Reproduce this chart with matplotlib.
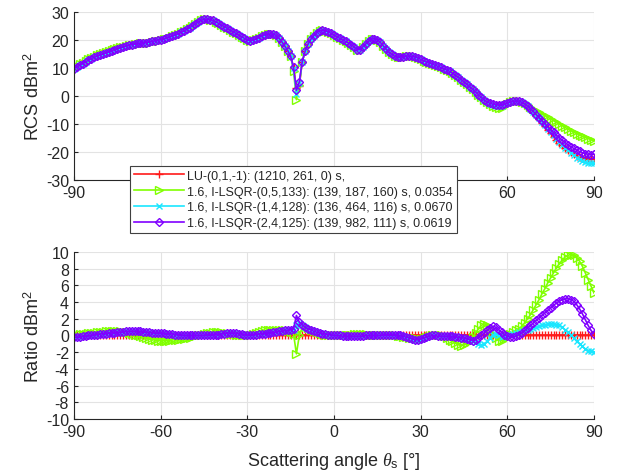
import matplotlib
matplotlib.use('Agg')
import matplotlib.pyplot as plt
import numpy as np

plt.rcParams['font.family'] = ['Liberation Sans', 'DejaVu Sans']
plt.rcParams['mathtext.fontset'] = 'custom'
plt.rcParams['mathtext.it'] = 'Liberation Serif:italic'
plt.rcParams['mathtext.rm'] = 'Liberation Sans'
plt.rcParams['axes.unicode_minus'] = False

# scattering angle, 1 degree steps
angle = np.arange(-90, 91)

labels = ['LU-(0,1,-1): (1210, 261, 0) s,',
          '1.6, I-LSQR-(0,5,133): (139, 187, 160) s, 0.0354',
          '1.6, I-LSQR-(1,4,128): (136, 464, 116) s, 0.0670',
          '1.6, I-LSQR-(2,4,125): (139, 982, 111) s, 0.0619']
colors = ['#ff1a1a', '#80ff00', '#1ae6ff', '#8000ff']
markers = ['+', '>', 'x', 'D']
msizes = [6, 5.5, 5, 4.5]

# RCS (dBm^2)
rcs_lu = [
    9.8, 10.4, 11.0, 11.6, 12.2, 12.8, 13.4, 13.8, 14.2, 14.6,
    15.0, 15.4, 15.8, 16.2, 16.6, 16.9, 17.2, 17.5, 17.8, 18.1,
    18.4, 18.6, 18.8, 18.9, 19.0, 19.1, 19.3, 19.5, 19.7, 19.9,
    20.1, 20.4, 20.7, 21.0, 21.4, 21.8, 22.2, 22.7, 23.2, 23.8,
    24.4, 25.1, 25.8, 26.5, 27.0, 27.4, 27.5, 27.3, 27.0, 26.5,
    26.0, 25.4, 24.8, 24.2, 23.6, 23.0, 22.4, 21.8, 21.2, 20.6,
    20.1, 19.8, 19.9, 20.3, 20.9, 21.5, 21.9, 22.1, 22.2, 22.1,
    21.7, 20.6, 19.3, 17.8, 16.2, 14.2, 10.4, 2.8, 3.5, 12.2,
    16.0, 18.5, 20.3, 21.6, 22.6, 23.3, 23.6, 23.4, 22.9, 22.4,
    21.8, 21.2, 20.6, 20.1, 19.5, 19.0, 18.4, 17.5, 16.5, 16.6,
    17.6, 18.6, 19.6, 20.3, 20.5, 20.1, 19.2, 18.0, 16.8, 15.7,
    14.9, 14.2, 13.9, 13.9, 14.1, 14.3, 14.3, 14.2, 14.0, 13.6,
    13.1, 12.6, 12.2, 11.8, 11.4, 11.0, 10.6, 10.2, 9.8, 9.3,
    8.8, 8.2, 7.5, 6.7, 5.9, 5.1, 4.2, 3.3, 2.4, 1.5,
    0.5, -0.5, -1.4, -2.1, -2.6, -2.9, -3.1, -3.2, -3.1, -2.9,
    -2.6, -2.2, -1.9, -1.7, -1.8, -2.2, -2.8, -3.6, -4.6, -5.7,
    -7.0, -8.2, -9.5, -10.8, -12.1, -13.3, -14.5, -15.6, -16.6, -17.6,
    -18.5, -19.3, -20.0, -20.7, -21.3, -21.8, -22.1, -22.3, -22.4, -22.4,
    -22.3]
rcs_lsqr0 = [
    9.9, 10.6, 11.3, 11.9, 12.5, 13.1, 13.7, 14.1, 14.5, 14.9,
    15.3, 15.6, 16.0, 16.4, 16.8, 17.1, 17.4, 17.6, 17.9, 18.1,
    18.4, 18.6, 18.7, 18.8, 18.9, 19.0, 19.1, 19.3, 19.5, 19.7,
    19.9, 20.2, 20.5, 20.9, 21.3, 21.7, 22.2, 22.7, 23.2, 23.8,
    24.4, 25.1, 25.8, 26.5, 27.0, 27.4, 27.5, 27.3, 27.0, 26.5,
    26.0, 25.4, 24.8, 24.2, 23.6, 23.0, 22.4, 21.8, 21.2, 20.6,
    20.1, 19.8, 19.9, 20.3, 20.9, 21.5, 21.9, 22.1, 22.2, 22.1,
    21.7, 20.6, 19.3, 17.8, 16.2, 14.2, 9.0, -1.3, 4.0, 12.2,
    16.0, 18.5, 20.3, 21.6, 22.6, 23.3, 23.6, 23.4, 22.9, 22.4,
    21.8, 21.2, 20.6, 20.1, 19.5, 19.0, 18.4, 17.5, 16.5, 16.6,
    17.6, 18.6, 19.6, 20.3, 20.5, 20.1, 19.2, 18.0, 16.8, 15.7,
    14.9, 14.2, 13.9, 13.9, 14.1, 14.3, 14.3, 14.2, 14.0, 13.6,
    13.1, 12.6, 12.2, 11.8, 11.4, 11.0, 10.6, 10.2, 9.8, 9.3,
    8.8, 8.2, 7.5, 6.7, 5.9, 5.1, 4.2, 3.3, 2.4, 1.5,
    0.5, -0.5, -1.4, -2.1, -2.9, -3.4, -3.9, -4.3, -4.1, -3.5,
    -2.8, -2.2, -1.9, -1.7, -1.8, -2.0, -2.5, -3.1, -3.8, -4.5,
    -5.2, -5.8, -6.4, -7.0, -7.6, -8.2, -8.8, -9.4, -10.0, -10.6,
    -11.2, -11.8, -12.4, -12.9, -13.4, -13.9, -14.4, -14.8, -15.2, -15.6,
    -16.0]
rcs_lsqr1 = [
    9.8, 10.4, 11.0, 11.6, 12.2, 12.8, 13.4, 13.8, 14.2, 14.6,
    15.0, 15.4, 15.8, 16.2, 16.6, 16.9, 17.2, 17.5, 17.8, 18.1,
    18.4, 18.6, 18.8, 18.9, 19.0, 19.1, 19.3, 19.5, 19.7, 19.9,
    20.1, 20.4, 20.7, 21.0, 21.4, 21.8, 22.2, 22.7, 23.2, 23.8,
    24.4, 25.1, 25.8, 26.5, 27.0, 27.4, 27.5, 27.3, 27.0, 26.5,
    26.0, 25.4, 24.8, 24.2, 23.6, 23.0, 22.4, 21.8, 21.2, 20.6,
    20.1, 19.8, 19.9, 20.3, 20.9, 21.5, 21.9, 22.1, 22.2, 22.1,
    21.7, 20.6, 19.3, 17.8, 16.2, 14.2, 10.0, 0.8, 4.5, 12.2,
    16.0, 18.5, 20.3, 21.6, 22.6, 23.3, 23.6, 23.4, 22.9, 22.4,
    21.8, 21.2, 20.6, 20.1, 19.5, 19.0, 18.4, 17.5, 16.5, 16.6,
    17.6, 18.6, 19.6, 20.3, 20.5, 20.1, 19.2, 18.0, 16.8, 15.7,
    14.9, 14.2, 13.9, 13.9, 14.1, 14.3, 14.3, 14.2, 14.0, 13.6,
    13.1, 12.6, 12.2, 11.8, 11.4, 11.0, 10.6, 10.2, 9.8, 9.3,
    8.8, 8.2, 7.5, 6.7, 5.9, 5.1, 4.2, 3.3, 2.4, 1.5,
    0.5, -0.5, -1.4, -2.1, -2.7, -3.3, -3.6, -3.7, -3.5, -3.0,
    -2.6, -2.2, -1.9, -1.7, -1.8, -2.2, -2.8, -3.6, -4.5, -5.6,
    -6.9, -8.0, -9.2, -10.4, -11.6, -12.8, -14.0, -15.2, -16.3, -17.4,
    -18.4, -19.4, -20.3, -21.2, -22.0, -22.6, -23.1, -23.5, -23.8, -23.9,
    -23.9]
rcs_lsqr2 = [
    9.8, 10.4, 11.0, 11.6, 12.2, 12.8, 13.4, 13.8, 14.2, 14.6,
    15.0, 15.4, 15.8, 16.2, 16.6, 16.9, 17.2, 17.5, 17.8, 18.1,
    18.4, 18.6, 18.8, 18.9, 19.0, 19.1, 19.3, 19.5, 19.7, 19.9,
    20.1, 20.4, 20.7, 21.0, 21.4, 21.8, 22.2, 22.7, 23.2, 23.8,
    24.4, 25.1, 25.8, 26.5, 27.0, 27.4, 27.5, 27.3, 27.0, 26.5,
    26.0, 25.4, 24.8, 24.2, 23.6, 23.0, 22.4, 21.8, 21.2, 20.6,
    20.1, 19.8, 19.9, 20.3, 20.9, 21.5, 21.9, 22.1, 22.2, 22.1,
    21.7, 20.6, 19.3, 17.8, 16.2, 14.2, 10.2, 2.0, 5.0, 12.2,
    16.0, 18.5, 20.3, 21.6, 22.6, 23.3, 23.6, 23.4, 22.9, 22.4,
    21.8, 21.2, 20.6, 20.1, 19.5, 19.0, 18.4, 17.5, 16.5, 16.6,
    17.6, 18.6, 19.6, 20.3, 20.5, 20.1, 19.2, 18.0, 16.8, 15.7,
    14.9, 14.2, 13.9, 13.9, 14.1, 14.3, 14.3, 14.2, 14.0, 13.6,
    13.1, 12.6, 12.2, 11.8, 11.4, 11.0, 10.6, 10.2, 9.8, 9.3,
    8.8, 8.2, 7.5, 6.7, 5.9, 5.1, 4.2, 3.3, 2.4, 1.5,
    0.5, -0.5, -1.4, -2.1, -2.6, -2.9, -3.1, -3.2, -3.1, -2.9,
    -2.6, -2.2, -1.9, -1.7, -1.8, -2.2, -2.8, -3.6, -4.5, -5.5,
    -6.6, -7.7, -8.8, -9.9, -11.0, -12.0, -13.0, -14.0, -14.9, -15.8,
    -16.6, -17.4, -18.1, -18.7, -19.3, -19.8, -20.2, -20.6, -20.8, -20.9,
    -20.8]

# ratio to LU (dBm^2)
ratio_lu = np.zeros(len(angle))
ratio_lsqr0 = [
    0.1, 0.1, 0.2, 0.2, 0.2, 0.3, 0.3, 0.3, 0.4, 0.4,
    0.4, 0.5, 0.5, 0.5, 0.5, 0.5, 0.5, 0.4, 0.4, 0.3,
    0.2, 0.1, 0.0, -0.1, -0.2, -0.3, -0.4, -0.5, -0.5, -0.6,
    -0.6, -0.6, -0.6, -0.6, -0.5, -0.5, -0.5, -0.4, -0.4, -0.3,
    -0.3, -0.2, -0.1, 0.0, 0.1, 0.2, 0.3, 0.3, 0.4, 0.4,
    0.4, 0.4, 0.3, 0.3, 0.2, 0.2, 0.1, 0.1, 0.0, 0.0,
    0.0, 0.1, 0.2, 0.3, 0.4, 0.5, 0.6, 0.6, 0.7, 0.7,
    0.7, 0.7, 0.6, 0.6, 0.5, 0.4, 0.2, -2.2, 0.0, 0.9,
    1.0, 0.9, 0.7, 0.5, 0.4, 0.3, 0.2, 0.1, 0.1, 0.0,
    0.0, 0.0, 0.0, 0.0, 0.1, 0.1, 0.1, 0.2, 0.2, 0.2,
    0.2, 0.2, 0.1, 0.1, 0.0, 0.0, 0.0, 0.0, 0.0, 0.0,
    0.0, 0.0, -0.1, -0.1, -0.2, -0.2, -0.3, -0.3, -0.3, -0.4,
    -0.4, -0.3, -0.2, -0.1, 0.0, 0.1, 0.1, 0.0, -0.1, -0.3,
    -0.5, -0.7, -0.9, -1.1, -1.2, -1.1, -0.9, -0.6, -0.2, 0.3,
    0.8, 1.2, 1.4, 1.3, 0.8, 0.2, -0.3, -0.6, -0.6, -0.4,
    -0.1, 0.2, 0.4, 0.6, 0.8, 1.1, 1.5, 2.0, 2.5, 3.1,
    3.7, 4.3, 5.0, 5.6, 6.3, 6.9, 7.5, 8.1, 8.6, 9.0,
    9.4, 9.6, 9.7, 9.6, 9.3, 8.9, 8.3, 7.5, 6.7, 5.9,
    5.1]
ratio_lsqr1 = [
    -0.2, -0.2, -0.2, -0.1, -0.1, 0.0, 0.0, 0.1, 0.1, 0.2,
    0.2, 0.2, 0.3, 0.3, 0.3, 0.4, 0.4, 0.4, 0.5, 0.5,
    0.5, 0.5, 0.5, 0.5, 0.4, 0.4, 0.4, 0.3, 0.3, 0.3,
    0.3, 0.3, 0.2, 0.2, 0.2, 0.1, 0.1, 0.1, 0.0, 0.0,
    0.0, 0.0, 0.0, 0.0, 0.0, 0.0, 0.1, 0.1, 0.1, 0.1,
    0.1, 0.2, 0.2, 0.3, 0.3, 0.3, 0.3, 0.2, 0.2, 0.1,
    0.1, 0.1, 0.1, 0.1, 0.2, 0.2, 0.2, 0.3, 0.3, 0.4,
    0.4, 0.5, 0.5, 0.6, 0.6, 0.7, 0.7, 1.2, 1.5, 1.2,
    1.0, 0.8, 0.7, 0.5, 0.4, 0.3, 0.2, 0.2, 0.1, 0.1,
    0.0, 0.0, 0.0, -0.1, -0.1, -0.1, -0.1, -0.1, -0.1, -0.1,
    -0.1, 0.0, 0.0, 0.0, 0.0, 0.0, 0.0, 0.1, 0.1, 0.1,
    0.1, 0.1, 0.0, 0.0, -0.1, -0.2, -0.3, -0.4, -0.5, -0.5,
    -0.4, -0.3, -0.2, -0.1, 0.0, 0.0, -0.1, -0.1, -0.1, -0.1,
    -0.1, -0.1, -0.2, -0.2, -0.3, -0.3, -0.4, -0.5, -0.6, -0.8,
    -1.0, -1.1, -1.0, -0.7, -0.3, 0.1, 0.2, 0.0, -0.2, -0.1,
    0.0, 0.1, 0.2, 0.3, 0.4, 0.5, 0.6, 0.7, 0.8, 0.9,
    1.0, 1.1, 1.2, 1.3, 1.35, 1.4, 1.4, 1.3, 1.2, 1.0,
    0.7, 0.4, 0.1, -0.3, -0.7, -1.0, -1.3, -1.6, -1.8, -1.9,
    -2.0]
ratio_lsqr2 = [
    -0.2, -0.2, -0.2, -0.1, -0.1, 0.0, 0.0, 0.1, 0.1, 0.2,
    0.2, 0.2, 0.3, 0.3, 0.3, 0.4, 0.4, 0.4, 0.5, 0.5,
    0.5, 0.5, 0.5, 0.5, 0.4, 0.4, 0.4, 0.3, 0.3, 0.3,
    0.3, 0.3, 0.2, 0.2, 0.2, 0.1, 0.1, 0.1, 0.0, 0.0,
    0.0, 0.0, 0.0, 0.0, 0.0, 0.0, 0.1, 0.1, 0.1, 0.1,
    0.1, 0.2, 0.2, 0.3, 0.3, 0.3, 0.3, 0.2, 0.2, 0.1,
    0.1, 0.1, 0.1, 0.1, 0.2, 0.2, 0.2, 0.3, 0.3, 0.4,
    0.4, 0.5, 0.5, 0.6, 0.6, 0.7, 0.8, 2.4, 1.6, 1.3,
    1.0, 0.8, 0.7, 0.5, 0.4, 0.3, 0.2, 0.2, 0.1, 0.1,
    0.0, 0.0, 0.0, -0.1, -0.1, -0.1, -0.1, -0.1, -0.1, -0.1,
    -0.1, 0.0, 0.0, 0.0, 0.0, 0.0, 0.0, 0.1, 0.1, 0.1,
    0.1, 0.1, 0.0, 0.0, -0.1, -0.2, -0.3, -0.4, -0.5, -0.5,
    -0.4, -0.3, -0.2, -0.1, 0.0, 0.0, -0.1, -0.1, -0.1, -0.1,
    -0.1, -0.1, -0.2, -0.2, -0.3, -0.3, -0.4, -0.5, -0.6, -0.5,
    -0.3, 0.0, 0.3, 0.6, 0.9, 1.1, 1.0, 0.7, 0.4, 0.1,
    -0.1, -0.2, -0.2, -0.1, 0.1, 0.3, 0.6, 0.9, 1.2, 1.5,
    1.8, 2.1, 2.4, 2.7, 3.0, 3.3, 3.6, 3.9, 4.1, 4.3,
    4.4, 4.4, 4.3, 4.1, 3.7, 3.2, 2.6, 1.9, 1.2, 0.6,
    0.2]

rcs = [rcs_lu, rcs_lsqr0, rcs_lsqr1, rcs_lsqr2]
ratio = [ratio_lu, ratio_lsqr0, ratio_lsqr1, ratio_lsqr2]
xticks = np.arange(-90, 91, 30)

fig = plt.figure(figsize=(6.18, 4.77), dpi=100)
ax1 = fig.add_axes([0.1197, 0.6205, 0.8414, 0.3522])
ax2 = fig.add_axes([0.1197, 0.1195, 0.8414, 0.3501])

for ax, data in [(ax1, rcs), (ax2, ratio)]:
    for y, c, m, ms, lab in zip(data, colors, markers, msizes, labels):
        ax.plot(angle, y, color=c, marker=m, markersize=ms, markeredgewidth=1.0,
                markerfacecolor='none', linewidth=1.2, label=lab)
    ax.set_xlim(-90, 90)
    ax.set_xticks(xticks)
    ax.grid(True, color='#e3e3e3', linewidth=0.8)
    ax.set_axisbelow(True)
    ax.spines['top'].set_visible(False)
    ax.spines['right'].set_visible(False)
    for s in ['left', 'bottom']:
        ax.spines[s].set_color('#262626')
        ax.spines[s].set_linewidth(0.8)
    ax.tick_params(direction='in', length=3, width=0.8, colors='#262626',
                   labelsize=11.5, labelcolor='#262626')

# the legend hides the middle tick labels of the top panel
ax1.set_xticklabels([str(t) if t in (-90, 60, 90) else '' for t in xticks])
ax1.set_ylim(-30, 30)
ax1.set_yticks(np.arange(-30, 31, 10))
ax1.set_ylabel('RCS dBm$^2$', fontsize=13, color='#262626', labelpad=2)

ax2.set_ylim(-10, 10)
ax2.set_yticks(np.arange(-10, 11, 2))
ax2.set_ylabel('Ratio dBm$^2$', fontsize=13, color='#262626', labelpad=2)
ax2.set_xlabel(r'Scattering angle $\theta_{\mathrm{s}}$ [°]', fontsize=13,
               color='#262626', labelpad=8)

leg = ax1.legend(loc='upper left', bbox_to_anchor=(0.1077, 0.083), borderaxespad=0,
                 fontsize=9, handlelength=4.0, labelspacing=0.3, borderpad=0.3,
                 handletextpad=0.3, fancybox=False, framealpha=1, edgecolor='#404040')
leg.get_frame().set_linewidth(0.8)
for t in leg.get_texts():
    t.set_color('#262626')

fig.savefig('out.png', dpi=100)
